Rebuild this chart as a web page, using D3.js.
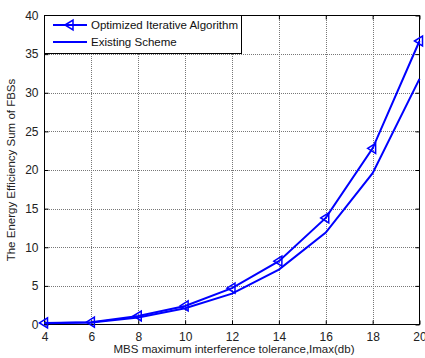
<!DOCTYPE html>
<html>
<head>
<meta charset="utf-8">
<script src="https://cdn.jsdelivr.net/npm/d3@7"></script>
<style>
  body { margin: 0; background: #fff; }
  svg { display: block; font-family: Arial, "Liberation Sans", sans-serif; }
  .grid line { stroke: #777; stroke-dasharray: 1,1; stroke-width: 1; shape-rendering: crispEdges; }
</style>
</head>
<body>
<svg id="chart" width="425" height="358"></svg>
<script>
var xValues = [4, 6, 8, 10, 12, 14, 16, 18, 20];
var optimized = [0.2, 0.3, 1.1, 2.4, 4.7, 8.2, 13.8, 22.8, 36.7];
var existing = [0.15, 0.25, 0.9, 2.1, 4.0, 7.1, 11.9, 19.6, 31.8];
var xTicks = [4, 6, 8, 10, 12, 14, 16, 18, 20];
var yTicks = [0, 5, 10, 15, 20, 25, 30, 35, 40];
var seriesNames = ['Optimized Iterative Algorithm', 'Existing Scheme'];

var svg = d3.select('#chart');
var pLeft = 44.5, pRight = 419.5, pTop = 15.5, pBottom = 324.5;

var x = d3.scaleLinear().domain([4, 20]).range([pLeft, pRight]);
var y = d3.scaleLinear().domain([0, 40]).range([pBottom, pTop]);

function snap(v) { return Math.round(v - 0.5) + 0.5; }

// grid via axes with full-length ticks
var gridX = svg.append('g').attr('class', 'grid')
  .attr('transform', 'translate(0,' + pBottom + ')')
  .call(d3.axisBottom(x).tickValues(xTicks.slice(1, -1)).tickSize(-(pBottom - pTop)).tickFormat(''));
var gridY = svg.append('g').attr('class', 'grid')
  .attr('transform', 'translate(' + pLeft + ',0)')
  .call(d3.axisLeft(y).tickValues(yTicks.slice(1, -1)).tickSize(-(pRight - pLeft)).tickFormat(''));
svg.selectAll('.grid .domain').remove();

// axes, ticks inward
var tickLen = 4;
svg.append('g').attr('class', 'ax').attr('transform', 'translate(0,' + pBottom + ')')
  .call(d3.axisBottom(x).tickValues(xTicks).tickSizeInner(-tickLen).tickSizeOuter(0).tickPadding(8));
svg.append('g').attr('class', 'ax').attr('transform', 'translate(' + pLeft + ',0)')
  .call(d3.axisLeft(y).tickValues(yTicks).tickSizeInner(-tickLen).tickSizeOuter(0).tickPadding(6));
svg.append('g').attr('class', 'ax').attr('transform', 'translate(0,' + pTop + ')')
  .call(d3.axisTop(x).tickValues(xTicks).tickSizeInner(-tickLen).tickSizeOuter(0).tickFormat(''));
svg.append('g').attr('class', 'ax').attr('transform', 'translate(' + pRight + ',0)')
  .call(d3.axisRight(y).tickValues(yTicks).tickSizeInner(-tickLen).tickSizeOuter(0).tickFormat(''));

svg.selectAll('.ax .domain').remove();
svg.selectAll('.ax .tick line').attr('stroke', '#000');
svg.selectAll('.ax .tick text').attr('font-size', 12).attr('fill', '#222')
  .attr('font-family', 'Arial, "Liberation Sans", sans-serif');

svg.append('rect').attr('x', pLeft).attr('y', pTop)
  .attr('width', pRight - pLeft).attr('height', pBottom - pTop)
  .attr('fill', 'none').attr('stroke', '#000').attr('stroke-width', 1);

// lines
var line = d3.line()
  .x(function(d, i) { return x(xValues[i]); })
  .y(function(d) { return y(d); });

svg.append('path').datum(existing).attr('d', line)
  .attr('fill', 'none').attr('stroke', '#0000ff').attr('stroke-width', 2);
svg.append('path').datum(optimized).attr('d', line)
  .attr('fill', 'none').attr('stroke', '#0000ff').attr('stroke-width', 2);

function triangle(cx, cy, s) {
  return 'M' + (cx - s) + ',' + cy + 'L' + (cx + s * 0.6) + ',' + (cy - s) +
    'L' + (cx + s * 0.6) + ',' + (cy + s) + 'Z';
}

svg.selectAll('path.marker').data(optimized).enter().append('path')
  .attr('class', 'marker')
  .attr('d', function(d, i) { return triangle(x(xValues[i]), y(d), 5); })
  .attr('fill', 'none').attr('stroke', '#0000ff').attr('stroke-width', 1.5);

// legend
var lg = svg.append('g');
lg.append('rect').attr('x', 44.5).attr('y', 15.5).attr('width', 197).attr('height', 38)
  .attr('fill', '#fff').attr('stroke', '#000').attr('stroke-width', 1);
var rows = [25, 42];
rows.forEach(function(ry, i) {
  lg.append('line').attr('x1', 53).attr('x2', 87).attr('y1', ry).attr('y2', ry)
    .attr('stroke', '#0000ff').attr('stroke-width', 2);
  if (i === 0) {
    lg.append('path').attr('d', triangle(70, ry, 5))
      .attr('fill', 'none').attr('stroke', '#0000ff').attr('stroke-width', 1.5);
  }
  lg.append('text').attr('x', 91).attr('y', ry + 4).attr('font-size', 11.5)
    .attr('fill', '#111').text(seriesNames[i]);
});

// axis labels
svg.append('text').attr('x', (pLeft + pRight) / 2 + 2).attr('y', 353)
  .attr('text-anchor', 'middle').attr('font-size', 11.5).attr('fill', '#222')
  .text('MBS maximum interference tolerance,Imax(db)');
svg.append('text').attr('transform', 'translate(15,' + ((pTop + pBottom) / 2) + ') rotate(-90)')
  .attr('text-anchor', 'middle').attr('font-size', 11.5).attr('fill', '#222')
  .text('The Energy Efficiency Sum of FBSs');
</script>
</body>
</html>
